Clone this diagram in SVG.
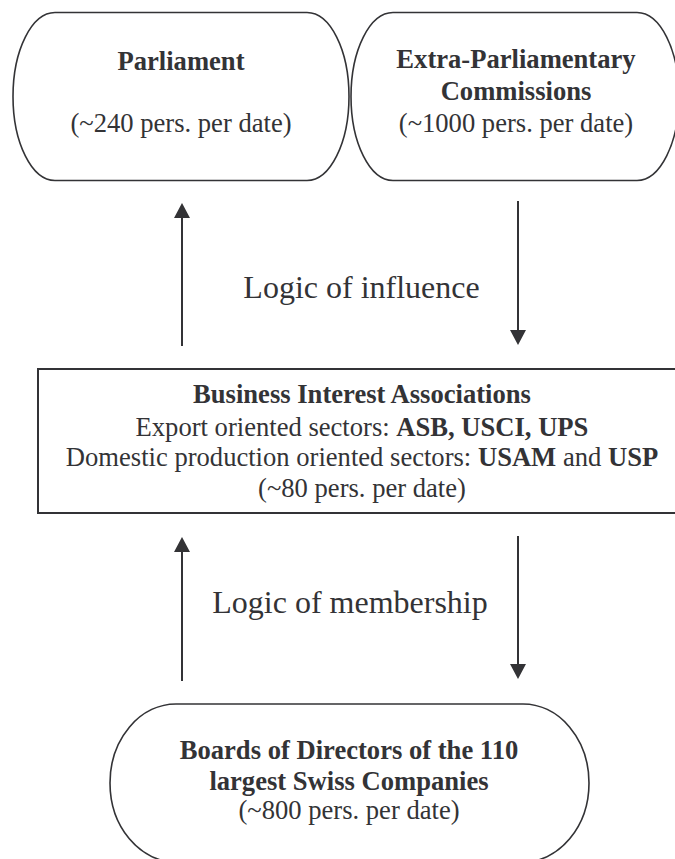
<svg xmlns="http://www.w3.org/2000/svg" width="675" height="859" viewBox="0 0 675 859">
  <style>
    .shape { fill: #ffffff; stroke: #333336; stroke-width: 1.6; }
    .box { fill: #ffffff; stroke: #333336; stroke-width: 2; }
    .conn { stroke: #333336; stroke-width: 2; fill: none; }
    text { font-family: "Liberation Serif", "Times New Roman", serif; fill: #333336; text-anchor: middle; }
    .n { font-size: 26.6px; }
    .b { font-weight: bold; }
    .lab { font-size: 32px; }
  </style>
  <defs>
    <marker id="head" markerUnits="userSpaceOnUse" markerWidth="15" markerHeight="16" viewBox="0 0 15 16" refX="0" refY="8" orient="auto">
      <path d="M0,0 L15,8 L0,16 z" fill="#333336"/>
    </marker>
  </defs>

  <g id="parliament">
    <rect class="shape" x="13" y="12.5" width="336" height="168" rx="42" ry="84"/>
    <text class="n b" x="181" y="70">Parliament</text>
    <text class="n" x="181" y="132">(~240 pers. per date)</text>
  </g>

  <g id="commissions">
    <rect class="shape" x="351" y="12.5" width="328" height="168" rx="42" ry="84"/>
    <text class="n b" x="516" y="68">Extra-Parliamentary</text>
    <text class="n b" x="516" y="100">Commissions</text>
    <text class="n" x="516" y="132">(~1000 pers. per date)</text>
  </g>

  <g id="associations">
    <rect class="box" x="38" y="369" width="648" height="144"/>
    <text class="n b" x="362" y="403">Business Interest Associations</text>
    <text class="n" x="362" y="436">Export oriented sectors: <tspan class="b">ASB, USCI, UPS</tspan></text>
    <text class="n" x="362" y="466">Domestic production oriented sectors: <tspan class="b">USAM</tspan> and <tspan class="b">USP</tspan></text>
    <text class="n" x="362" y="497">(~80 pers. per date)</text>
  </g>

  <g id="boards">
    <rect class="shape" x="110" y="704" width="479" height="158" rx="66" ry="79"/>
    <text class="n b" x="349" y="759">Boards of Directors of the 110</text>
    <text class="n b" x="349" y="790">largest Swiss Companies</text>
    <text class="n" x="349" y="819">(~800 pers. per date)</text>
  </g>

  <g id="connectors">
    <line class="conn" x1="182" y1="346" x2="182" y2="218" marker-end="url(#head)"/>
    <line class="conn" x1="518" y1="201" x2="518" y2="330" marker-end="url(#head)"/>
    <line class="conn" x1="182" y1="681" x2="182" y2="552" marker-end="url(#head)"/>
    <line class="conn" x1="518" y1="536" x2="518" y2="664" marker-end="url(#head)"/>
    <text class="lab" x="361.5" y="298">Logic of influence</text>
    <text class="lab" x="350" y="613">Logic of membership</text>
  </g>
</svg>
